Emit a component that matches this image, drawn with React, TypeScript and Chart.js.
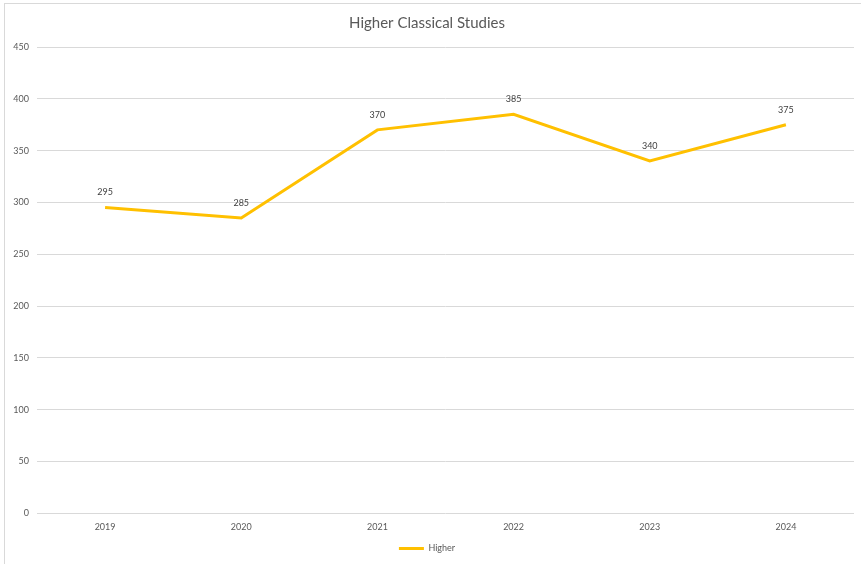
import React, { useEffect, useRef } from "react";
import { Chart, registerables } from "chart.js";

Chart.register(...registerables);

const categories = ["2019", "2020", "2021", "2022", "2023", "2024"];
const higherValues = [295, 285, 370, 385, 340, 375];
const seriesName = "Higher";
const chartTitle = "Higher Classical Studies";

const FONT = "Lato, 'Open Sans', sans-serif";
const TEXT = "#595959";

const valueLabels = {
  id: "valueLabels",
  afterDatasetsDraw(chart: any) {
    const ctx = chart.ctx;
    ctx.save();
    ctx.font = `9px ${FONT}`;
    ctx.fillStyle = "#404040";
    ctx.textAlign = "center";
    ctx.textBaseline = "middle";
    chart.data.datasets.forEach((ds: any, i: number) => {
      const meta = chart.getDatasetMeta(i);
      meta.data.forEach((pt: any, j: number) => {
        ctx.fillText(String(ds.data[j]), pt.x, pt.y - 15);
      });
    });
    ctx.restore();
  },
};

export default function App() {
  const ref = useRef<HTMLCanvasElement>(null);
  useEffect(() => {
    if (!ref.current) return;
    const chart = new Chart(ref.current, {
      type: "line",
      data: {
        labels: categories,
        datasets: [
          {
            label: seriesName,
            data: higherValues,
            borderColor: "#FFC000",
            backgroundColor: "#FFC000",
            borderWidth: 3,
            pointRadius: 0,
            tension: 0,
          },
        ],
      },
      options: {
        animation: false,
        responsive: false,
        maintainAspectRatio: false,
        layout: { padding: { left: 0, right: 7, top: 13, bottom: 1 } },
        plugins: {
          title: {
            display: true,
            text: chartTitle,
            color: TEXT,
            font: { family: FONT, size: 15, weight: "normal" },
            padding: { top: 1, bottom: 15 },
          },
          legend: {
            display: true,
            position: "bottom",
            labels: {
              usePointStyle: true,
              pointStyle: "line",
              pointStyleWidth: 25,
              color: TEXT,
              font: { family: FONT, size: 9 },
              padding: 4,
            },
          },
          tooltip: { enabled: false },
        },
        scales: {
          x: {
            offset: true,
            grid: { display: false, drawTicks: false },
            border: { display: false },
            ticks: { color: TEXT, font: { family: FONT, size: 9 }, padding: 8, maxRotation: 0 },
          },
          y: {
            min: 0,
            max: 450,
            grid: { color: "#d9d9d9", drawTicks: false },
            border: { display: false },
            ticks: { stepSize: 50, color: TEXT, font: { family: FONT, size: 9 }, padding: 8 },
            afterFit: (scale: any) => {
              scale.width = 37;
            },
          },
        },
      },
      plugins: [valueLabels],
    });
    return () => chart.destroy();
  }, []);
  return (
    <div style={{ position: "fixed", left: 0, top: 0, width: 861, height: 564, background: "#fff" }}>
      <div
        style={{
          position: "absolute",
          left: 4,
          top: 3,
          width: 870,
          height: 580,
          border: "1px solid #d9d9d9",
          boxSizing: "border-box",
        }}
      />
      <canvas ref={ref} width={861} height={564} style={{ position: "absolute", left: 0, top: 0 }} />
    </div>
  );
}
